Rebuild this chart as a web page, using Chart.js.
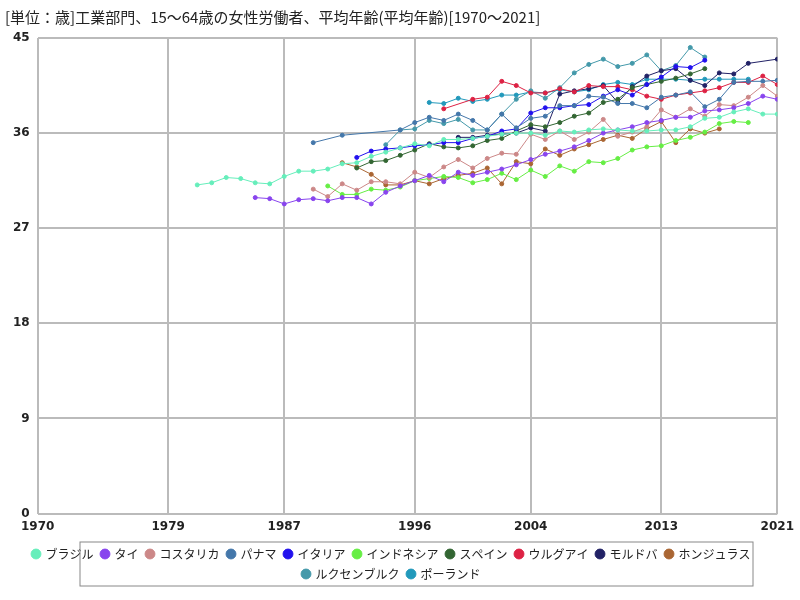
<!DOCTYPE html><html><head><meta charset="utf-8"><script src="https://cdn.jsdelivr.net/npm/chart.js@4"></script>
<style>body{margin:0;background:#fff}</style></head><body><canvas id="c" width="800" height="600" style="width:800px;height:600px"></canvas>
<script>
const title='[単位：歳]工業部門、15～64歳の女性労働者、平均年齢(平均年齢)[1970～2021]';
const xTicks=[1970,1979,1987,1996,2004,2013,2021];
const names=['ブラジル','タイ','コスタリカ','パナマ','イタリア','インドネシア','スペイン','ウルグアイ','モルドバ','ホンジュラス','ルクセンブルク','ポーランド'];
const colors=['#66eebb','#8844ee','#cc8888','#4477aa','#2211ee','#66ee44','#336633','#dd2244','#222266','#aa6633','#4499aa','#2299bb'];
const brazilYears=[1981,1982,1983,1984,1985,1986,1987,1988,1989,1990,1991,1992,1993,1994,1995,1996,1997,1998,1999,2000,2001,2002,2003,2004,2005,2006,2007,2008,2009,2010,2011,2012,2013,2014,2015,2016,2017,2018,2019,2020,2021];
const brazil=[31.1,31.3,31.8,31.7,31.3,31.2,31.9,32.4,32.4,32.6,33.1,33.2,33.8,34.2,34.6,35,34.8,35.4,35.4,35.5,35.7,35.9,36,36,35.8,36.2,36.1,36.3,36.4,36.3,36.2,36.2,36.3,36.3,36.6,37.4,37.5,38,38.3,37.8,37.8];
const thaiYears=[1985,1986,1987,1988,1989,1990,1991,1992,1993,1994,1995,1996,1997,1998,1999,2000,2001,2002,2003,2004,2005,2006,2007,2008,2009,2010,2011,2012,2013,2014,2015,2016,2017,2018,2019,2020,2021];
const thai=[29.9,29.8,29.3,29.7,29.8,29.6,29.9,29.9,29.3,30.4,31,31.5,32,31.4,32.3,32,32.3,32.6,33,33.5,34,34.3,34.7,35.3,36,36.3,36.6,37,37.2,37.5,37.5,38.1,38.2,38.4,38.8,39.5,39.2];
const crYears=[1989,1990,1991,1992,1993,1994,1995,1996,1997,1998,1999,2000,2001,2002,2003,2004,2005,2006,2007,2008,2009,2010,2011,2012,2013,2014,2015,2016,2017,2018,2019,2020,2021];
const costaRica=[30.7,30,31.2,30.6,31.4,31.4,31.2,32.3,31.8,32.8,33.5,32.7,33.6,34.1,34,35.9,35.4,36.2,35.4,36.1,37.3,35.7,36.1,36.6,38.2,37.5,38.3,37.6,38.7,38.6,39.4,40.5,39.5];
const panamaYears=[1989,1991,1995,1996,1997,1998,1999,2000,2001,2002,2003,2004,2005,2006,2007,2008,2009,2010,2011,2012,2013,2014,2015,2016,2017,2018,2019,2020,2021];
const panama=[35.1,35.8,36.3,37,37.5,37.2,37.8,37.2,36.3,37.8,36.5,37.4,37.6,38.6,38.6,39.5,39.4,38.8,38.8,38.4,39.4,39.6,39.9,38.5,39.2,40.8,40.9,40.9,41];
const italyYears=[1992,1993,1994,1995,1996,1997,1998,1999,2000,2001,2002,2003,2004,2005,2006,2007,2008,2009,2010,2011,2012,2013,2014,2015,2016];
const italy=[33.7,34.3,34.5,34.6,34.8,34.9,35.1,35.1,35.5,35.7,36.2,36.4,37.9,38.4,38.4,38.6,38.7,39.5,40.1,39.6,40.6,41.3,42.3,42.2,42.9];
const indoYears=[1990,1991,1992,1993,1994,1995,1996,1997,1998,1999,2000,2001,2002,2003,2004,2005,2006,2007,2008,2009,2010,2011,2012,2013,2014,2015,2016,2017,2018,2019];
const indonesia=[31,30.2,30.2,30.7,30.6,30.9,31.5,31.7,31.9,31.8,31.3,31.6,32.2,31.6,32.5,31.9,32.9,32.4,33.3,33.2,33.6,34.4,34.7,34.8,35.3,35.6,36.1,36.9,37.1,37];
const spainYears=[1992,1993,1994,1995,1996,1997,1998,1999,2000,2001,2002,2003,2004,2005,2006,2007,2008,2009,2010,2011,2012,2013,2014,2015,2016];
const spain=[32.7,33.3,33.4,33.9,34.4,35,34.7,34.6,34.8,35.3,35.5,36.2,36.8,36.6,37,37.6,37.9,38.9,39.2,40.3,40.6,40.9,41.2,41.6,42.1];
const uruYears=[1998,2000,2001,2002,2003,2004,2005,2006,2007,2008,2009,2010,2011,2012,2013,2014,2015,2016,2017,2018,2019,2020,2021];
const uruguay=[38.3,39.2,39.4,40.9,40.5,39.8,39.8,40.2,39.9,40.5,40.4,40.4,40.1,39.5,39.2,39.6,39.8,40,40.3,40.8,40.8,41.4,40.6];
const molYears=[1999,2000,2001,2002,2003,2004,2005,2006,2007,2008,2009,2010,2011,2012,2013,2014,2015,2016,2017,2018,2019,2021];
const moldova=[35.6,35.6,35.8,35.9,36,36.5,36.2,39.7,40,40.2,40.5,38.9,40.4,41.4,41.9,42.1,41,40.5,41.7,41.6,42.6,43];
const honYears=[1991,1992,1993,1994,1995,1996,1997,1998,1999,2000,2001,2002,2003,2004,2005,2006,2007,2008,2009,2010,2011,2012,2013,2014,2015,2016,2017];
const honduras=[33.2,32.8,32.1,31.1,31.1,31.5,31.2,31.7,32,32.2,32.7,31.2,33.3,33.1,34.5,33.9,34.5,34.9,35.4,35.8,35.5,36.4,37.1,35.1,36.4,36,36.4];
const luxYears=[1994,1995,1996,1997,1998,1999,2000,2001,2002,2003,2004,2005,2006,2007,2008,2009,2010,2011,2012,2013,2014,2015,2016];
const luxembourg=[34.9,36.3,36.4,37.2,36.9,37.3,36.3,36.3,37.8,39.2,40,39.3,40.3,41.7,42.5,43,42.3,42.6,43.4,41.9,42.4,44.1,43.2];
const polYears=[1997,1998,1999,2000,2001,2002,2003,2004,2005,2006,2007,2008,2009,2010,2011,2012,2013,2014,2015,2016,2017,2018,2019];
const poland=[38.9,38.8,39.3,39,39.2,39.6,39.6,39.9,39.8,40.1,39.9,40.1,40.6,40.8,40.6,41.1,41.1,41.1,41,41.1,41.1,41.1,41.1];
const years=[brazilYears,thaiYears,crYears,panamaYears,italyYears,indoYears,spainYears,uruYears,molYears,honYears,luxYears,polYears];
const vals=[brazil,thai,costaRica,panama,italy,indonesia,spain,uruguay,moldova,honduras,luxembourg,poland];
const datasets=names.map((n,i)=>({label:n,data:years[i].map((y,j)=>({x:y,y:vals[i][j]})),borderColor:colors[i],backgroundColor:colors[i],borderWidth:1,pointRadius:2,pointHoverRadius:2}));
const legendBox={id:'lb',afterDraw(ch){const l=ch.legend;const c=ch.ctx;c.save();c.strokeStyle='#888';c.lineWidth=1;c.strokeRect(l.left+75,l.top+2,l.width-100,l.height-6);c.restore();}};
new Chart(document.getElementById('c'),{type:'line',data:{datasets},plugins:[legendBox],options:{responsive:false,animation:false,
layout:{padding:{left:5,right:22,top:0,bottom:10}},
plugins:{title:{display:true,text:title,align:'start',color:'#222',font:{family:'Noto Sans CJK JP',size:15,weight:'normal'},padding:{top:8,bottom:12}},
legend:{position:'bottom',labels:{usePointStyle:true,pointStyle:'circle',boxWidth:7,boxHeight:7,font:{family:'Noto Sans CJK JP',size:12},color:'#222',padding:8}}},
scales:{x:{type:'linear',min:1970,max:2021,afterBuildTicks:a=>{a.ticks=xTicks.map(v=>({value:v}))},ticks:{autoSkip:false,maxRotation:0,color:'#222',font:{family:'DejaVu Sans',size:12,weight:'bold'},callback:v=>v,padding:6},grid:{color:'#bbb',lineWidth:2,drawTicks:false},border:{display:false}},
y:{min:0,max:45,ticks:{stepSize:9,color:'#222',font:{family:'DejaVu Sans',size:12,weight:'bold'},padding:8},grid:{color:'#bbb',lineWidth:2,drawTicks:false},border:{display:false}}}}});
</script></body></html>
